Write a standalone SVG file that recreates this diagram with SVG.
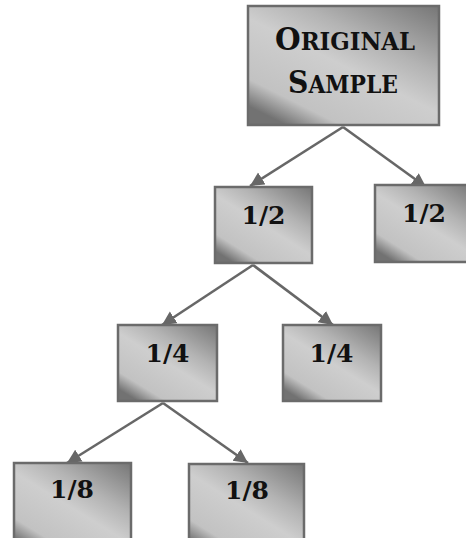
<svg xmlns="http://www.w3.org/2000/svg" width="466" height="538" viewBox="0 0 466 538">
  <style>
    .box { fill: url(#g); stroke: #6b6b6b; stroke-width: 2.5; }
    .lbl { font-family: "DejaVu Serif", "Liberation Serif", serif; font-weight: bold; font-size: 25px; fill: #111; text-anchor: middle; }
    .big { font-size: 31px; }
    .sc { font-size: 24px; }
    .conn { stroke: #676767; stroke-width: 2.6; fill: none; marker-end: url(#arr); }
  </style>
  <defs>
    <linearGradient id="g" x1="1" y1="0" x2="0.2" y2="1">
      <stop offset="0" stop-color="#767676"/>
      <stop offset="0.35" stop-color="#b3b3b3"/>
      <stop offset="0.55" stop-color="#cecece"/>
      <stop offset="0.86" stop-color="#c2c2c2"/>
      <stop offset="1" stop-color="#727272"/>
    </linearGradient>
    <marker id="arr" markerUnits="userSpaceOnUse" markerWidth="15" markerHeight="15" refX="14" refY="7" orient="auto">
      <path d="M0,0 L14,7 L0,14 z" fill="#676767"/>
    </marker>
  </defs>
  <rect width="466" height="538" fill="#ffffff"/>
  <g id="connectors">
    <line class="conn" x1="343" y1="127" x2="250" y2="186"/>
    <line class="conn" x1="343" y1="127" x2="426" y2="187"/>
    <line class="conn" x1="253" y1="265" x2="162" y2="325"/>
    <line class="conn" x1="253" y1="265" x2="333" y2="325"/>
    <line class="conn" x1="163" y1="403" x2="67" y2="463"/>
    <line class="conn" x1="163" y1="403" x2="248" y2="463"/>
  </g>
  <g id="original">
    <rect class="box" x="248" y="6" width="191" height="119"/>
    <text class="lbl" x="345" y="50" textLength="140" lengthAdjust="spacingAndGlyphs"><tspan class="big">O</tspan><tspan class="sc">RIGINAL</tspan></text>
    <text class="lbl" x="343" y="93" textLength="110" lengthAdjust="spacingAndGlyphs"><tspan class="big">S</tspan><tspan class="sc">AMPLE</tspan></text>
  </g>
  <g id="half-left">
    <rect class="box" x="215" y="187" width="97" height="76"/>
    <text class="lbl" x="263.5" y="224">1/2</text>
  </g>
  <g id="half-right">
    <rect class="box" x="375" y="185" width="98" height="77"/>
    <text class="lbl" x="424" y="222">1/2</text>
  </g>
  <g id="quarter-left">
    <rect class="box" x="118" y="325" width="99" height="76"/>
    <text class="lbl" x="167.5" y="362">1/4</text>
  </g>
  <g id="quarter-right">
    <rect class="box" x="283" y="325" width="98" height="76"/>
    <text class="lbl" x="331.5" y="362">1/4</text>
  </g>
  <g id="eighth-left">
    <rect class="box" x="14" y="463" width="117" height="90"/>
    <text class="lbl" x="72" y="498">1/8</text>
  </g>
  <g id="eighth-right">
    <rect class="box" x="189" y="464" width="115" height="90"/>
    <text class="lbl" x="247" y="499">1/8</text>
  </g>
</svg>
